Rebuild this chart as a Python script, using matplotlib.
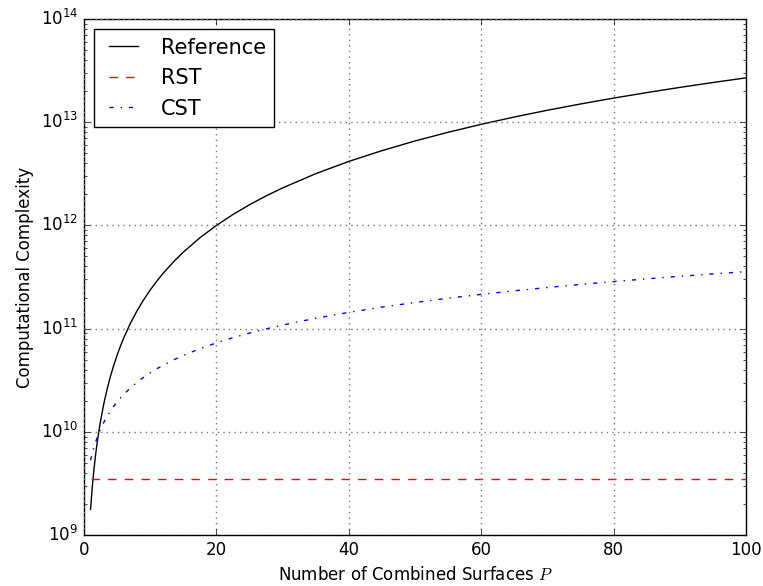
import matplotlib
matplotlib.use("Agg")
import matplotlib.pyplot as plt

plt.style.use('classic')

# Values
P = [1, 1.25, 1.5, 1.75, 2, 2.25, 2.5, 3, 3.5, 4, 4.5, 5, 5.5, 6, 7, 8, 9,
     10, 11, 12, 13.5, 15, 17.5, 20, 22.5, 25, 27.5, 30, 35, 40, 45, 50,
     55, 60, 65, 70, 75, 80, 85, 90, 95, 100]
reference = [1.77e9, 2.86e9, 4.24e9, 5.90e9, 7.85e9, 1.01e10, 1.265e10,
             1.87e10, 2.59e10, 3.44e10, 4.41e10, 5.51e10, 6.73e10, 8.09e10,
             1.119e11, 1.481e11, 1.895e11, 2.363e11, 2.884e11, 3.459e11,
             4.42e11, 5.505e11, 7.58e11, 9.99e11, 1.275e12, 1.585e12,
             1.929e12, 2.308e12, 3.17e12, 4.17e12, 5.30e12, 6.58e12,
             7.99e12, 9.54e12, 1.123e13, 1.306e13, 1.502e13, 1.713e13,
             1.936e13, 2.174e13, 2.425e13, 2.69e13]
cst = [5.3e9, 6.14e9, 7.03e9, 7.91e9, 8.8e9, 9.69e9, 1.06e10, 1.235e10,
       1.41e10, 1.59e10, 1.77e10, 1.945e10, 2.12e10, 2.3e10, 2.66e10,
       3.01e10, 3.37e10, 3.72e10, 4.08e10, 4.43e10, 4.96e10, 5.5e10,
       6.38e10, 7.27e10, 8.16e10, 9.05e10, 9.93e10, 1.082e11, 1.26e11,
       1.437e11, 1.615e11, 1.792e11, 1.97e11, 2.147e11, 2.325e11, 2.502e11,
       2.68e11, 2.857e11, 3.035e11, 3.212e11, 3.39e11, 3.567e11]
rst_P = [1, 100]
rst = [3.5e9, 3.5e9]

xticks = [0, 20, 40, 60, 80, 100]

fig = plt.figure(figsize=(7.63, 5.86), dpi=100, facecolor='white')
ax = fig.add_axes([0.110, 0.087, 0.868, 0.8806])

ax.plot(P, reference, color='k', linestyle='-', linewidth=1, label='Reference')
ax.plot(rst_P, rst, color='r', linestyle='--', linewidth=1, label='RST')
ax.plot(P, cst, color='b', linestyle='-.', linewidth=1, label='CST')

ax.set_yscale('log')
ax.set_xlim(0, 100)
ax.set_ylim(1e9, 1e14)
ax.set_xticks(xticks)
ax.grid(True, which='major', color='0.45', linestyle=':', linewidth=1)

ax.set_xlabel('Number of Combined Surfaces $P$', fontsize=12)
ax.set_ylabel('Computational Complexity', fontsize=12)

ax.legend(loc='upper left', fontsize=15)

fig.savefig('out.png', dpi=100, facecolor='white')
